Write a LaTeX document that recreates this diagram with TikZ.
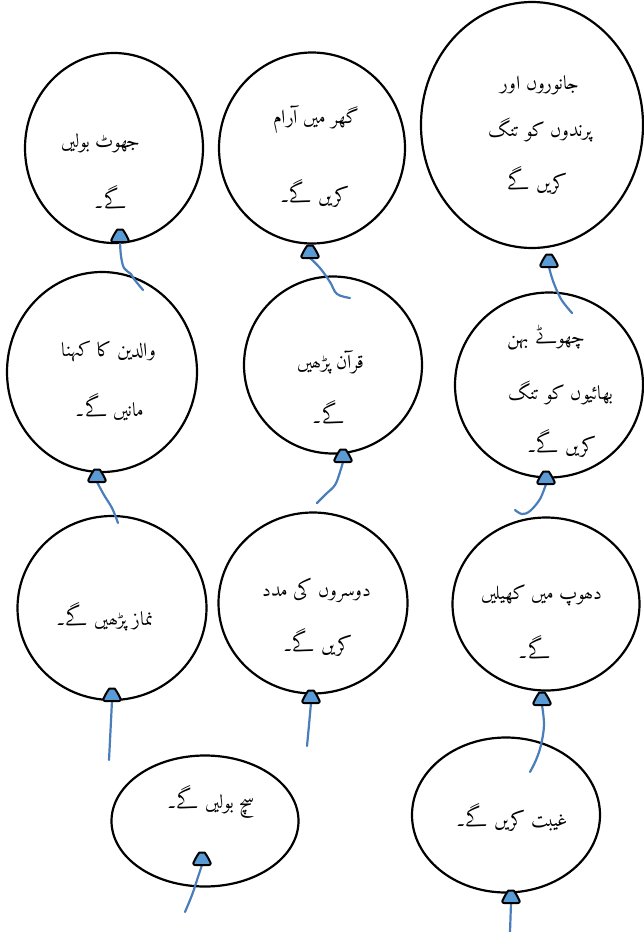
\documentclass[tikz,border=0pt]{standalone}
\usepackage{fontspec}
\IfFontExistsTF{Amiri-Regular.ttf}{%
  \newfontfamily\urdufont[Script=Arabic,Language=Urdu]{Amiri-Regular.ttf}%
  \newcommand\urdusize{\fontsize{19.5}{22}\selectfont}}{%
  \newfontfamily\urdufont[Script=Arabic]{DejaVu Sans}%
  \newcommand\urdusize{\fontsize{15}{18}\selectfont}}
\TeXXeTstate=1
\definecolor{strblue}{HTML}{4A7EBB}
\definecolor{knotblue}{HTML}{5B9BD5}
\newcommand\ur[1]{{\urdufont\urdusize\beginR #1\endR}}
\newcommand\drawknot[1]{\draw[knotshape] ([xshift=-9.5pt]#1) .. controls ([xshift=-7pt,yshift=6pt]#1) and ([xshift=-3pt,yshift=12.5pt]#1) .. ([yshift=12.5pt]#1) .. controls ([xshift=3pt,yshift=12.5pt]#1) and ([xshift=7pt,yshift=6pt]#1) .. ([xshift=9.5pt]#1) -- cycle;}
\usetikzlibrary{shapes.geometric}
\begin{document}
\begin{tikzpicture}[x=1pt,y=-1pt,
  balloon/.style={ellipse,draw=black,line width=2.2pt,inner sep=0pt},
  knotshape/.style={draw=black,line width=2pt,fill=knotblue,rounded corners=2.5pt,line join=round},
  str/.style={draw=strblue,line width=2.2pt,line cap=round,line join=round},
  txt/.style={inner sep=0pt}]
\fill[white] (0,0) rectangle (644,932);
\useasboundingbox (0,0) rectangle (644,932);

% balloons
\node[balloon,minimum width=178pt,minimum height=190pt] (b1) at (114,148) {};
\node[balloon,minimum width=186pt,minimum height=191pt] (b2) at (312,148) {};
\node[balloon,minimum width=222pt,minimum height=246pt] (b3) at (532,125) {};
\node[balloon,minimum width=190pt,minimum height=200pt] (b4) at (102,372) {};
\node[balloon,minimum width=178pt,minimum height=177pt] (b5) at (333,365) {};
\node[balloon,minimum width=188pt,minimum height=185pt] (b6) at (549,385) {};
\node[balloon,minimum width=189pt,minimum height=184pt] (b7) at (112,608) {};
\node[balloon,minimum width=189pt,minimum height=181pt] (b8) at (313,603) {};
\node[balloon,minimum width=187pt,minimum height=173pt] (b9) at (546,604) {};
\node[balloon,minimum width=187pt,minimum height=131pt] (b10) at (205,821) {};
\node[balloon,minimum width=188pt,minimum height=155pt] (b11) at (506,815) {};

% texts
\node[txt] (t1a) at (101,143) {\ur{جھوٹ بولیں}};
\node[txt] (t1b) at (111,197) {\ur{گے۔}};
\node[txt] (t2a) at (316,120) {\ur{گھر میں آرام}};
\node[txt] (t2b) at (315,193) {\ur{کریں گے۔}};
\node[txt] (t3a) at (540,85) {\ur{جانوروں اور}};
\node[txt] (t3b) at (540,130) {\ur{پرندوں کو تنگ}};
\node[txt] (t3c) at (538,180) {\ur{کریں گے}};
\node[txt] (t4a) at (109,352) {\ur{والدین کا کہنا}};
\node[txt] (t4b) at (110,407) {\ur{مانیں گے۔}};
\node[txt] (t5a) at (331,362) {\ur{قرآن پڑھیں}};
\node[txt] (t5b) at (329,412) {\ur{گے۔}};
\node[txt] (t6a) at (546,338) {\ur{چھوٹے بہن}};
\node[txt] (t6b) at (561,393) {\ur{بھائیوں کو تنگ}};
\node[txt] (t6c) at (562,443) {\ur{کریں گے۔}};
\node[txt] (t7a) at (105,617) {\ur{نماز پڑھیں گے۔}};
\node[txt] (t8a) at (317,590) {\ur{دوسروں کی مدد}};
\node[txt] (t8b) at (318,642) {\ur{کریں گے۔}};
\node[txt] (t9a) at (542,595) {\ur{دھوپ میں کھیلیں}};
\node[txt] (t9b) at (535,647) {\ur{گے۔}};
\node[txt] (t10a) at (211,802) {\ur{سچ بولیں گے۔}};
\node[txt] (t11a) at (512,817) {\ur{غیبت کریں گے۔}};

% knot positions (base centre) and string ends
\coordinate (k1) at (120,242);  \coordinate (e1) at (143,290);
\coordinate (k2) at (310,258);  \coordinate (e2) at (350,298);
\coordinate (k3) at (549,267);  \coordinate (e3) at (572,313);
\coordinate (k4) at (97,482);   \coordinate (e4) at (118,523);
\coordinate (k5) at (343,462);  \coordinate (e5) at (317,503);
\coordinate (k6) at (546,484);  \coordinate (e6) at (515,510);
\coordinate (k7) at (112,701);  \coordinate (e7) at (109,760);
\coordinate (k8) at (311,703);  \coordinate (e8) at (307,746);
\coordinate (k9) at (542,705);  \coordinate (e9) at (530,772);
\coordinate (k10) at (202,865); \coordinate (e10) at (185,912);
\coordinate (k11) at (511,903); \coordinate (e11) at (510,932);

% strings
\draw[str] plot[smooth,tension=0.6] coordinates {(k1) (121,256) (124,268) (131,274) (134,279) (e1)};
\draw[str] plot[smooth,tension=0.6] coordinates {(k2) (320,268) (330,282) (337,294) (e2)};
\draw[str] plot[smooth,tension=0.6] coordinates {(k3) (553,281) (561,299) (e3)};
\draw[str] plot[smooth,tension=0.6] coordinates {(k4) (104,495) (112,508) (e4)};
\draw[str] plot[smooth,tension=0.6] coordinates {(k5) (340,472) (335,485) (326,494) (e5)};
\draw[str] plot[smooth,tension=0.6] coordinates {(k6) (540,499) (530,511) (522,514) (e6)};
\draw[str] (k7) -- (e7);
\draw[str] plot[smooth,tension=0.6] coordinates {(k8) (309,725) (e8)};
\draw[str] plot[smooth,tension=0.6] coordinates {(k9) (544,725) (541,745) (536,760) (e9)};
\draw[str] plot[smooth,tension=0.6] coordinates {(k10) (197,880) (192,895) (e10)};
\draw[str] (k11) -- (e11);

% knots
\drawknot{k1}
\drawknot{k2}
\drawknot{k3}
\drawknot{k4}
\drawknot{k5}
\drawknot{k6}
\drawknot{k7}
\drawknot{k8}
\drawknot{k9}
\drawknot{k10}
\drawknot{k11}
\end{tikzpicture}
\end{document}
